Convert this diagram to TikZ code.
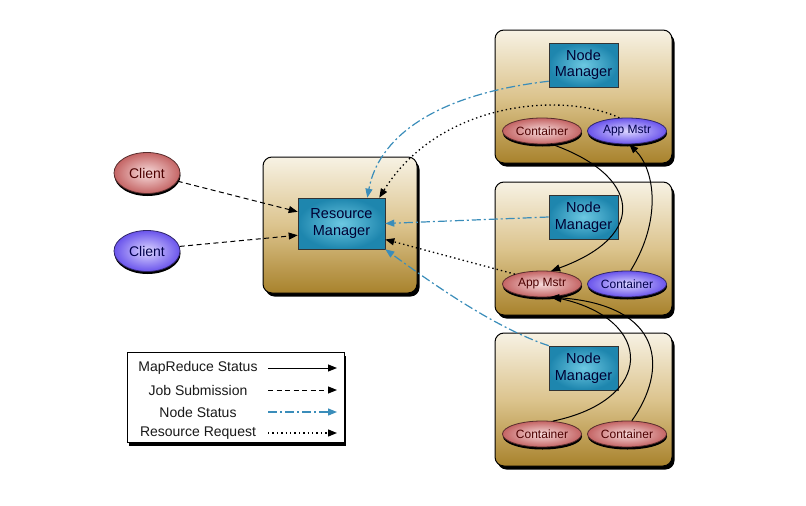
\documentclass[tikz,border=0pt]{standalone}
\usepackage{fontspec}
\setmainfont{Liberation Sans}
\usetikzlibrary{arrows.meta,shadows,shapes.geometric}
\definecolor{boxtop}{HTML}{F7F2E4}
\definecolor{boxmid}{HTML}{DCC48E}
\definecolor{boxbot}{HTML}{A8822C}
\definecolor{nmin}{HTML}{6CC8E2}
\definecolor{nmout}{HTML}{1E86AE}
\definecolor{pinkin}{HTML}{F7DCDC}
\definecolor{pinkout}{HTML}{C46464}
\definecolor{purpin}{HTML}{DCD6FF}
\definecolor{purpout}{HTML}{6A54EC}
\definecolor{nsblue}{HTML}{3A8DBA}
\tikzset{
  host/.style={draw=black, line width=1pt, rounded corners=9pt,
    top color=boxtop, bottom color=boxbot, middle color=boxmid,
    drop shadow={shadow xshift=2.5pt, shadow yshift=-3.5pt, opacity=1, fill=black},
    minimum width=177pt, minimum height=133pt, inner sep=0pt},
  mgr/.style={draw=black!80, line width=0.6pt, inner color=nmin, outer color=nmout,
    minimum width=69pt, minimum height=44pt, inner sep=0pt, align=center,
    font=\fontsize{14.5}{16.5}\selectfont, text=blue!20!black},
  ellbase/.style={ellipse, line width=0.8pt, minimum width=79pt, minimum height=26pt,
    inner sep=0pt, font=\fontsize{12}{14}\selectfont,
    drop shadow={shadow xshift=0.5pt, shadow yshift=-2.5pt, opacity=1, fill=black}},
  pinkell/.style={ellbase, draw=pinkout!45!black, inner color=pinkin, outer color=pinkout, text=red!30!black},
  purpell/.style={ellbase, draw=purpout!45!black, inner color=purpin, outer color=purpout, text=blue!30!black},
  clientell/.style={minimum width=66pt, minimum height=41pt, font=\fontsize{14}{16}\selectfont},
  tipstyle/.style={-{Triangle[length=9pt,width=7pt]}},
  ms/.style={tipstyle, line width=1pt, black},
  js/.style={tipstyle, line width=1pt, black, dash pattern=on 5pt off 3.5pt},
  ns/.style={tipstyle, line width=1.2pt, nsblue, dash pattern=on 9pt off 3pt on 2pt off 3pt},
  rr/.style={tipstyle, line width=1.3pt, black, dash pattern=on 1.4pt off 3pt},
  legtext/.style={font=\fontsize{14}{16}\selectfont, text=black!90}
}
\begin{document}
\begin{tikzpicture}[x=1pt,y=-1pt]
\useasboundingbox (0,0) rectangle (806,506);
% hosts
\node[host] (h1) at (583.5,96.5) {};
\node[host] (h2) at (583.5,248.5) {};
\node[host] (h3) at (583.5,399.5) {};
\node[host, minimum width=154pt, minimum height=136pt] (hrm) at (340,225) {};
% managers
\node[mgr, minimum width=87pt, minimum height=51pt] (rm) at (341.5,223.5) {Resource\\Manager};
\node[mgr] (nm1) at (583.5,65) {Node\\Manager};
\node[mgr] (nm2) at (583.5,217) {Node\\Manager};
\node[mgr] (nm3) at (583.5,368) {Node\\Manager};
% containers / app masters
\node[pinkell] (c1) at (542,131) {Container};
\node[purpell] (am1) at (627,131) {App Mstr};
\node[pinkell] (am2) at (542,284) {App Mstr};
\node[purpell] (c2) at (627,284) {Container};
\node[pinkell] (c3) at (542,434) {Container};
\node[pinkell] (c4) at (627,434) {Container};
% clients
\node[pinkell, clientell] (cl1) at (147,173) {Client};
\node[purpell, clientell] (cl2) at (147,251) {Client};
% legend
\node[draw=black, line width=1pt, fill=white, minimum width=217pt, minimum height=90pt,
  drop shadow={shadow xshift=1pt, shadow yshift=-3.5pt, opacity=1, fill=black}] (leg) at (236,397) {};
\node[legtext] (t1) at (198,368) {MapReduce Status};
\node[legtext] (t2) at (198,390) {Job Submission};
\node[legtext] (t3) at (198,412) {Node Status};
\node[legtext] (t4) at (198,433) {Resource Request};
\coordinate (a1) at (268,368); \coordinate (b1) at (337,368);
\coordinate (a2) at (268,390); \coordinate (b2) at (337,390);
\coordinate (a3) at (268,412); \coordinate (b3) at (337,412);
\coordinate (a4) at (268,433); \coordinate (b4) at (337,433);
\draw[ms] (a1) -- (b1);
\draw[js] (a2) -- (b2);
\draw[ns] (a3) -- (b3);
\draw[rr] (a4) -- (b4);
% job submission
\draw[js] (cl1.-15) -- (rm.165);
\draw[js] (cl2.8) -- (rm.195);
% node status
\draw[ns] (nm1.205) .. controls (430,95) and (378,140) .. (rm.45);
\draw[ns] (nm2.west) -- (rm.east);
\draw[ns] (nm3.north west) .. controls (495,328) and (430,282) .. (rm.south east);
% resource request
\draw[rr] (am1.120) .. controls (565,92) and (440,100) .. ([xshift=-6pt]rm.north east);
\draw[rr] (am2.160) -- (rm.-20);
% mapreduce status
\draw[ms] (c1.-55) .. controls (640,175) and (650,235) .. (am2.55);
\draw[ms] (c2.75) .. controls (662,220) and (655,170) .. (am1.-80);
\draw[ms] (c3.50) .. controls (655,400) and (655,320) .. (am2.-50);
\draw[ms] (c4.70) .. controls (668,370) and (665,305) .. (am2.-58);
\end{tikzpicture}
\end{document}
